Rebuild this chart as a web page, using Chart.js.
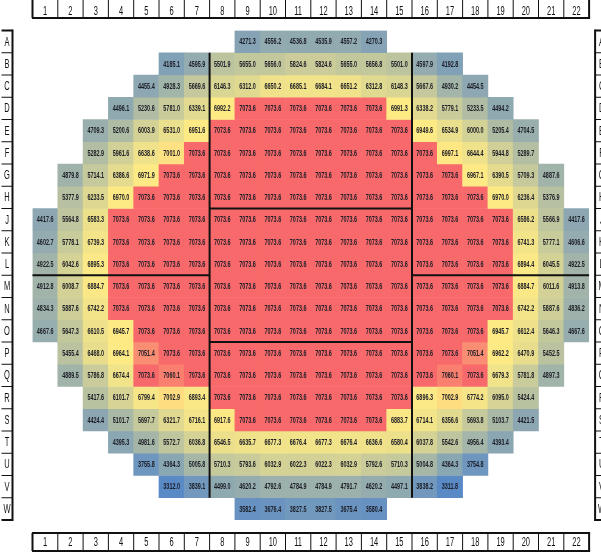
<!DOCTYPE html>
<html>
<head>
<meta charset="utf-8">
<script src="https://cdn.jsdelivr.net/npm/chart.js@4.4.1/dist/chart.umd.min.js"></script>
<style>
  html, body { margin: 0; padding: 0; background: #ffffff; }
  #wrap { width: 601px; height: 552px; }
</style>
</head>
<body>
<div id="wrap"><canvas id="map" width="601" height="552"></canvas></div>
<script>
// Column and row identifiers of the die map
const colLabels = ['1','2','3','4','5','6','7','8','9','10','11','12','13','14','15','16','17','18','19','20','21','22'];
const rowLabels = ['A','B','C','D','E','F','G','H','J','K','L','M','N','O','P','Q','R','S','T','U','V','W'];

// First populated column (1-based) of every row
const rowStart = [9, 6, 5, 4, 3, 3, 2, 2, 1, 1, 1, 1, 1, 1, 2, 2, 3, 3, 4, 5, 6, 9];

// Measured values, one list per row, left to right
const rowA = [4271.3, 4556.2, 4536.8, 4535.9, 4557.2, 4270.3];
const rowB = [4185.1, 4595.9, 5501.9, 5655.0, 5656.0, 5824.6, 5824.6, 5655.0, 5656.8, 5501.0, 4597.9, 4192.8];
const rowC = [4455.4, 4928.3, 5669.6, 6146.3, 6312.0, 6650.2, 6685.1, 6684.1, 6651.2, 6312.8, 6148.3, 5667.6, 4930.2, 4454.5];
const rowD = [4496.1, 5230.6, 5781.0, 6339.1, 6992.2, 7073.6, 7073.6, 7073.6, 7073.6, 7073.6, 7073.6, 6991.3, 6338.2, 5779.1, 5233.5, 4494.2];
const rowE = [4709.3, 5200.6, 6003.9, 6531.0, 6951.6, 7073.6, 7073.6, 7073.6, 7073.6, 7073.6, 7073.6, 7073.6, 7073.6, 6949.6, 6534.9, 6000.0, 5205.4, 4704.5];
const rowF = [5282.9, 5961.6, 6638.6, 7001.0, 7073.6, 7073.6, 7073.6, 7073.6, 7073.6, 7073.6, 7073.6, 7073.6, 7073.6, 7073.6, 6997.1, 6644.4, 5944.8, 5289.7];
const rowG = [4879.8, 5714.1, 6386.6, 6971.9, 7073.6, 7073.6, 7073.6, 7073.6, 7073.6, 7073.6, 7073.6, 7073.6, 7073.6, 7073.6, 7073.6, 7073.6, 6967.1, 6390.5, 5709.3, 4887.6];
const rowH = [5377.9, 6233.5, 6970.0, 7073.6, 7073.6, 7073.6, 7073.6, 7073.6, 7073.6, 7073.6, 7073.6, 7073.6, 7073.6, 7073.6, 7073.6, 7073.6, 7073.6, 6970.0, 6236.4, 5376.9];
const rowJ = [4417.6, 5564.8, 6583.3, 7073.6, 7073.6, 7073.6, 7073.6, 7073.6, 7073.6, 7073.6, 7073.6, 7073.6, 7073.6, 7073.6, 7073.6, 7073.6, 7073.6, 7073.6, 7073.6, 6586.2, 5566.9, 4417.6];
const rowK = [4602.7, 5778.1, 6739.3, 7073.6, 7073.6, 7073.6, 7073.6, 7073.6, 7073.6, 7073.6, 7073.6, 7073.6, 7073.6, 7073.6, 7073.6, 7073.6, 7073.6, 7073.6, 7073.6, 6741.3, 5777.1, 4606.6];
const rowL = [4922.5, 6042.6, 6895.3, 7073.6, 7073.6, 7073.6, 7073.6, 7073.6, 7073.6, 7073.6, 7073.6, 7073.6, 7073.6, 7073.6, 7073.6, 7073.6, 7073.6, 7073.6, 7073.6, 6894.4, 6045.5, 4922.5];
const rowM = [4912.8, 6008.7, 6884.7, 7073.6, 7073.6, 7073.6, 7073.6, 7073.6, 7073.6, 7073.6, 7073.6, 7073.6, 7073.6, 7073.6, 7073.6, 7073.6, 7073.6, 7073.6, 7073.6, 6884.7, 6011.6, 4913.8];
const rowN = [4834.3, 5887.6, 6742.2, 7073.6, 7073.6, 7073.6, 7073.6, 7073.6, 7073.6, 7073.6, 7073.6, 7073.6, 7073.6, 7073.6, 7073.6, 7073.6, 7073.6, 7073.6, 7073.6, 6742.2, 5887.6, 4836.2];
const rowO = [4667.6, 5647.3, 6610.5, 6945.7, 7073.6, 7073.6, 7073.6, 7073.6, 7073.6, 7073.6, 7073.6, 7073.6, 7073.6, 7073.6, 7073.6, 7073.6, 7073.6, 7073.6, 6945.7, 6612.4, 5646.3, 4667.6];
const rowP = [5455.4, 6468.0, 6964.1, 7051.4, 7073.6, 7073.6, 7073.6, 7073.6, 7073.6, 7073.6, 7073.6, 7073.6, 7073.6, 7073.6, 7073.6, 7073.6, 7051.4, 6962.2, 6470.9, 5452.5];
const rowQ = [4889.5, 5786.8, 6674.4, 7073.6, 7060.1, 7073.6, 7073.6, 7073.6, 7073.6, 7073.6, 7073.6, 7073.6, 7073.6, 7073.6, 7073.6, 7060.1, 7073.6, 6679.3, 5781.8, 4897.3];
const rowR = [5417.6, 6101.7, 6799.4, 7002.9, 6893.4, 7073.6, 7073.6, 7073.6, 7073.6, 7073.6, 7073.6, 7073.6, 7073.6, 6896.3, 7002.9, 6774.2, 6095.0, 5424.4];
const rowS = [4424.4, 5101.7, 5697.7, 6321.7, 6716.1, 6917.6, 7073.6, 7073.6, 7073.6, 7073.6, 7073.6, 7073.6, 6883.7, 6714.1, 6356.6, 5693.8, 5103.7, 4421.5];
const rowT = [4395.3, 4981.6, 5572.7, 6036.8, 6546.5, 6635.7, 6677.3, 6676.4, 6677.3, 6676.4, 6636.6, 6580.4, 6037.8, 5542.6, 4956.4, 4393.4];
const rowU = [3755.8, 4364.3, 5005.8, 5710.3, 5793.6, 6032.9, 6022.3, 6022.3, 6032.9, 5792.6, 5710.3, 5004.8, 4364.3, 3754.8];
const rowV = [3312.0, 3839.1, 4499.0, 4620.2, 4792.6, 4784.9, 4784.9, 4791.7, 4620.2, 4497.1, 3838.2, 3311.8];
const rowW = [3582.4, 3676.4, 3827.5, 3827.5, 3675.4, 3580.4];

const rows = [rowA, rowB, rowC, rowD, rowE, rowF, rowG, rowH, rowJ, rowK, rowL,
              rowM, rowN, rowO, rowP, rowQ, rowR, rowS, rowT, rowU, rowV, rowW];

// Full 22 x 22 grid, empty positions are null
const grid = rows.map((vals, r) =>
  colLabels.map((c, j) => {
    const k = j + 1 - rowStart[r];
    return (k >= 0 && k < vals.length) ? vals[k] : null;
  })
);

// Three-colour scale: minimum blue, 50th percentile yellow, maximum red
const allValues = grid.flat().filter(v => v !== null).sort((a, b) => a - b);
const vMin = allValues[0];
const vMax = allValues[allValues.length - 1];
const vMid = (() => {
  const pos = 0.5 * (allValues.length - 1);
  const lo = Math.floor(pos), hi = Math.ceil(pos);
  return allValues[lo] + (allValues[hi] - allValues[lo]) * (pos - lo);
})();
const LOW = [90, 138, 198], MID = [255, 235, 132], HIGH = [248, 105, 107];

function mix(a, b, t) {
  return a.map((v, i) => Math.round(v + (b[i] - v) * t));
}
function cellColor(v) {
  let c;
  if (v <= vMid) c = mix(LOW, MID, Math.max(0, (v - vMin) / (vMid - vMin)));
  else c = mix(MID, HIGH, Math.min(1, (v - vMid) / (vMax - vMid)));
  return `rgb(${c[0]},${c[1]},${c[2]})`;
}

// One floating-bar dataset per row; each bar spans that row's band on the y scale
const datasets = grid.map((rowVals, r) => ({
  label: rowLabels[r],
  data: rowVals.map(v => v === null ? null : [r - 0.5, r + 0.5]),
  cellValues: rowVals,
  backgroundColor: rowVals.map(v => v === null ? 'rgba(0,0,0,0)' : cellColor(v)),
  borderWidth: 0,
  barPercentage: 1,
  categoryPercentage: 1,
  grouped: false
}));

function squeezed(ctx, text, x, y, sx) {
  ctx.save();
  ctx.translate(x, y);
  ctx.scale(sx, 1);
  ctx.fillText(text, 0, 0);
  ctx.restore();
}

// Value printed in the middle of every die
const cellText = {
  id: 'cellText',
  afterDatasetsDraw(chart) {
    const ctx = chart.ctx;
    ctx.save();
    ctx.font = 'bold 8.5px "Liberation Sans", Arial, sans-serif';
    ctx.fillStyle = '#1c1d26';
    ctx.textAlign = 'center';
    ctx.textBaseline = 'middle';
    chart.data.datasets.forEach((ds, i) => {
      const meta = chart.getDatasetMeta(i);
      meta.data.forEach((el, j) => {
        const v = ds.cellValues[j];
        if (v === null) return;
        const p = el.getProps(['x', 'y', 'base'], true);
        squeezed(ctx, v.toFixed(1), p.x, (p.y + p.base) / 2 + 0.5, 0.64);
      });
    });
    ctx.restore();
  }
};

// Reticle lines, column/row header strips and their labels
const frame = {
  id: 'frame',
  afterDraw(chart) {
    const ctx = chart.ctx;
    const xs = chart.scales.x, ys = chart.scales.y;
    const colEdge = k => xs.getPixelForValue(k - 0.5);   // left edge of column index k
    const rowEdge = k => ys.getPixelForValue(k - 0.5);   // top edge of row index k
    const nC = colLabels.length, nR = rowLabels.length;
    const xL = colEdge(0), xR = colEdge(nC);
    const yT = rowEdge(0), yB = rowEdge(nR);

    ctx.save();
    ctx.strokeStyle = '#111111';
    const line = (x1, y1, x2, y2, w) => {
      ctx.lineWidth = w;
      ctx.beginPath(); ctx.moveTo(x1, y1); ctx.lineTo(x2, y2); ctx.stroke();
    };

    // thick reticle lines across the wafer
    const cx1 = colEdge(7), cx2 = colEdge(15);
    line(cx1, rowEdge(1), cx1, rowEdge(21), 2);
    line(cx2, rowEdge(1), cx2, rowEdge(21), 2);
    line(cx1, rowEdge(8), cx2, rowEdge(8), 2);
    line(cx1, rowEdge(14), cx2, rowEdge(14), 2);
    line(xL, rowEdge(11), cx1, rowEdge(11), 2);
    line(cx2, rowEdge(11), xR, rowEdge(11), 2);

    // top column header
    const topLine = yT - 12.5;
    line(xL - 0.5, topLine, xR + 1, topLine, 2);
    for (let k = 0; k <= nC; k++) line(colEdge(k), 0, colEdge(k), topLine, (k === 0 || k === nC) ? 2 : 1);

    // bottom column header
    const b1 = yB + 13, b2 = chart.height - 1;
    line(xL - 0.5, b1, xR + 1, b1, 2);
    line(xL - 0.5, b2, xR + 1, b2, 2);
    for (let k = 0; k <= nC; k++) line(colEdge(k), b1, colEdge(k), b2, (k === 0 || k === nC) ? 2 : 1);

    // left and right row headers
    const lx = 12.5, rx = xR + 6;
    line(lx, yT - 1, lx, yB + 1, 2);
    line(rx, yT - 1, rx, yB + 1, 2);
    for (let k = 0; k <= nR; k++) {
      const y = rowEdge(k), w = (k === 0 || k === nR) ? 2 : 1;
      line(1.5, y, lx, y, w);
      line(rx, y, chart.width, y, w);
    }

    // header labels
    ctx.fillStyle = '#111111';
    ctx.textAlign = 'center';
    ctx.textBaseline = 'middle';
    ctx.font = '12.5px "Liberation Sans", Arial, sans-serif';
    colLabels.forEach((lab, j) => {
      const x = xs.getPixelForValue(j);
      squeezed(ctx, lab, x, topLine / 2 + 2.5, 0.6);
      squeezed(ctx, lab, x, (b1 + b2) / 2 + 0.5, 0.6);
    });
    rowLabels.forEach((lab, r) => {
      const y = ys.getPixelForValue(r);
      squeezed(ctx, lab, 7, y + 0.5, 0.6);
      squeezed(ctx, lab, rx + 6.5, y + 0.5, 0.6);
    });
    ctx.restore();
  }
};

new Chart(document.getElementById('map'), {
  type: 'bar',
  data: { labels: colLabels, datasets },
  options: {
    responsive: false,
    animation: false,
    layout: { padding: { left: 32.5, right: 11.9, top: 30.5, bottom: 32 } },
    plugins: { legend: { display: false }, tooltip: { enabled: false } },
    scales: {
      x: { type: 'category', offset: true, display: false },
      y: { type: 'linear', min: -0.5, max: 21.5, reverse: true, display: false }
    }
  },
  plugins: [cellText, frame]
});
</script>
</body>
</html>
